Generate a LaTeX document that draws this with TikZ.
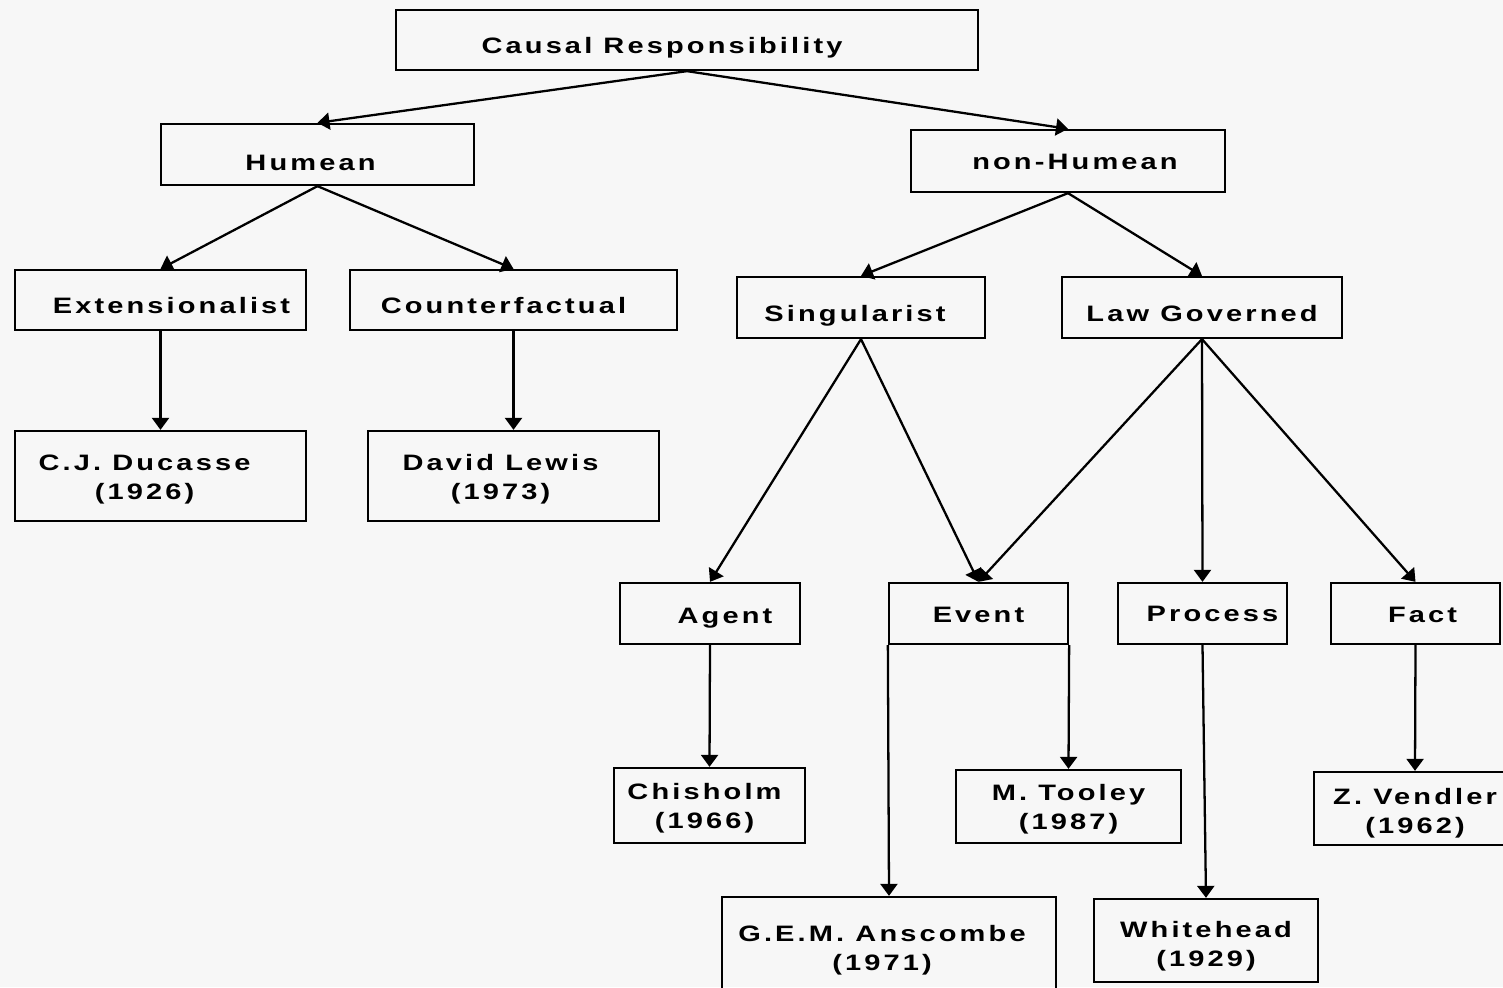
\documentclass[tikz,border=0pt]{standalone}
\usepackage{fontspec}
\setmainfont{Liberation Sans}[FakeStretch=1.3,LetterSpace=14]
\usetikzlibrary{arrows.meta,positioning}
\tikzset{
  caja/.style={rectangle, draw, line width=1.3pt, align=center,
               font=\fontsize{12.7}{16.5}\selectfont\bfseries, inner sep=2pt},
  baja/.style={text height=#1pt},
  flecha/.style={-{Triangle[length=2.4mm,width=3.4mm]}, line width=1.3pt}
}

\begin{document}
\begin{tikzpicture}[x=0.2mm,y=-0.2mm]
\fill[black!3] (0,0) rectangle (1503,987);
\useasboundingbox (0,0) rectangle (1503,987);

% top level
\node[caja, baja=18.3, minimum width=11.64cm, minimum height=1.2cm] (causal) at (687,40) {Causal Responsibility\hspace*{10mm}};
\node[caja, baja=18.3, minimum width=6.26cm, minimum height=1.22cm] (humean) at (317.5,154.5) {Humean\hspace*{2.8mm}};
\node[caja, baja=10.3, minimum width=6.28cm, minimum height=1.24cm] (nohumean) at (1068,161) {\hspace*{2.8mm}non-Humean};

% second level
\node[caja, baja=16, minimum width=5.82cm, minimum height=1.2cm] (extension) at (160.5,300) {\hspace*{4.4mm}Extensionalist};
\node[caja, baja=16, minimum width=6.54cm, minimum height=1.2cm] (counter) at (513.5,300) {Counterfactual\hspace*{4mm}};
\node[caja, baja=18.3, minimum width=4.96cm, minimum height=1.22cm] (singular) at (861,307.5) {Singularist\hspace*{2.4mm}};
\node[caja, baja=16, minimum width=5.6cm, minimum height=1.22cm] (leygob) at (1202,307.5) {Law Governed};

% kinds of relata
\node[caja, baja=13.8, minimum width=3.6cm, minimum height=1.22cm] (agent) at (710,613.5) {\hspace*{6mm}Agent};
\node[caja, baja=10.3, minimum width=3.58cm, minimum height=1.22cm] (event) at (978.5,613.5) {Event};
\node[caja, minimum width=3.38cm, minimum height=1.22cm] (process) at (1202.5,613.5) {\hspace*{4mm}Process};
\node[caja, baja=10.3, minimum width=3.38cm, minimum height=1.22cm] (fact) at (1415.5,613.5) {\hspace*{2.8mm}Fact};

% authors
\node[caja, baja=29.1, minimum width=5.82cm, minimum height=1.8cm] (ducasse) at (160.5,476) {C.J. Ducasse\hspace*{6.4mm}\\(1926)\hspace*{6.4mm}};
\node[caja, baja=29.7, minimum width=5.82cm, minimum height=1.8cm] (lewis) at (513.5,476) {David Lewis\hspace*{5.2mm}\\(1973)\hspace*{5.2mm}};
\node[caja, baja=29.1, minimum width=3.82cm, minimum height=1.5cm] (chisholm) at (709.5,805.5) {Chisholm\hspace*{2mm}\\(1966)\hspace*{2mm}};
\node[caja, baja=28.5, minimum width=4.5cm, minimum height=1.46cm] (tooley) at (1068.5,806.5) {M. Tooley\\(1987)};
\node[caja, baja=31.4, minimum width=4.04cm, minimum height=1.46cm] (vendler) at (1415,808.5) {Z. Vendler\\(1962)};
\node[caja, baja=31.4, minimum width=6.68cm, minimum height=1.92cm] (anscombe) at (889,945) {G.E.M. Anscombe\hspace*{2.8mm}\\(1971)\hspace*{2.8mm}};
\node[caja, baja=32.5, minimum width=4.48cm, minimum height=1.66cm] (whitehead) at (1206,940.5) {Whitehead\\(1929)};

\draw[flecha] (causal.south) -- (humean.north);
\draw[flecha] (causal.south) -- (nohumean.north);
\draw[flecha] (humean.south) -- (extension.north);
\draw[flecha] (humean.south) -- (counter.north);
\draw[flecha] (nohumean.south) -- (singular.north);
\draw[flecha] (nohumean.south) -- (leygob.north);
\draw[flecha] (extension.south) -- (ducasse.north);
\draw[flecha] (counter.south) -- (lewis.north);
\draw[flecha] (singular.south) -- (agent.north);
\draw[flecha] (singular.south) -- (event.north);
\draw[flecha] (leygob.south) -- (event.north);
\draw[flecha] (leygob.south) -- (process.north);
\draw[flecha] (leygob.south) -- (fact.north);
\draw[flecha] (agent.south) -- (chisholm.north);
\draw[flecha] (event.south west) -- (anscombe.north);
\draw[flecha] (event.south east) -- (tooley.north);
\draw[flecha] (process.south) -- (whitehead.north);
\draw[flecha] (fact.south) -- (vendler.north);
\end{tikzpicture}
\end{document}
